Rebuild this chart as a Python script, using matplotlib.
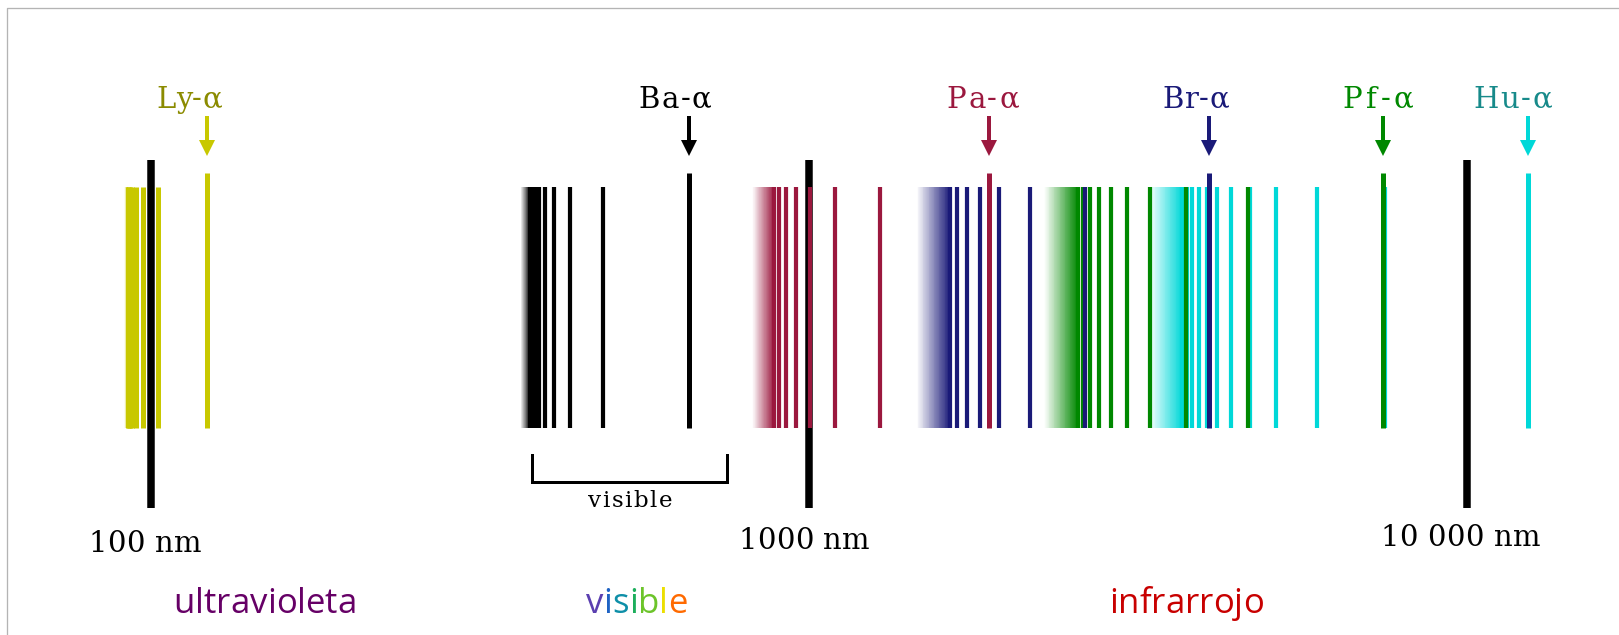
import matplotlib
matplotlib.use("Agg")
import matplotlib.pyplot as plt
import numpy as np
from matplotlib.colors import to_rgb
from matplotlib.transforms import IdentityTransform

W, H, DPI = 1619, 635, 100

# hydrogen lines in nm: alpha first, shortest drawn line last
LYMAN = [121.57, 102.57, 97.25, 94.97, 93.78, 93.07, 92.62, 92.31]
BALMER = [656.28, 486.13, 434.05, 410.17, 397.01, 388.91, 383.54, 379.79, 377.06]
PASCHEN = [1875.1, 1281.8, 1093.8, 1004.9, 954.6, 922.9, 901.5, 886.3]
BRACKETT = [4051.2, 2625.2, 2165.5, 1944.6, 1817.4, 1736.2, 1680.7, 1640.7]
PFUND = [7459.9, 4653.8, 3740.6, 3297.0, 3039.2, 2873.0, 2758.3, 2675.0, 2612.7, 2564.1]
HUMPHREYS = [12368, 7503, 5908, 5129, 4673, 4376, 4172, 4021, 3908, 3819, 3749, 3692]

# series limits (nm)
LIMITS = [91.18, 364.6, 820.4, 1458.2, 2279.0, 3282.0]
SERIES_LABELS = ["Ly-α", "Ba-α", "Pa-α", "Br-α", "Pf-α", "Hu-α"]

DECADES = [100, 1000, 10000]
DECADE_LABELS = ["100 nm", "1000 nm", "10 000 nm"]

VISIBLE_RANGE = [380, 752]

BAND_WORDS = ["ultravioleta", "visible", "infrarrojo"]

# styles
LINE_COLORS = ["#c8c800", "#000000", "#9b183e", "#1a1a78", "#008800", "#00d8d8"]
TEXT_COLORS = ["#8b8b00", "#000000", "#9b183e", "#1a1a78", "#008800", "#178a8a"]
LABEL_DX = [-17.5, -13.5, -6, -13, -6, -15]
LABEL_SPACING = [0.5, 1.5, 2.5, 0.5, 4, 1.5]
LINE_PX = [5.0, 4.2, 4.2, 4.2, 4.2, 4.2]
VISIBLE_COLORS = ["#5b3fb0", "#1f63c4", "#0e8fa8", "#1cae5c", "#6cc42a", "#ecdf00", "#ff6a00"]

PX_100 = 150.7          # pixel column of 100 nm
PX_DECADE = 658.2       # pixels per decade
PT = 72 / DPI           # points per pixel

TOP_ALPHA, TOP, BOTTOM = 173.3, 186.5, 427.5


def text_width(fig, s, **kw):
    if not s:
        return 0.0
    t = fig.text(0, 0, s, **kw)
    w = t.get_window_extent(fig.canvas.get_renderer()).width
    t.remove()
    return w


def draw_letters(fig, x, y, s, colors, spacing=0.0, **kw):
    """Draw text centred on pixel x, baseline pixel y (image coords), letter by letter."""
    total = text_width(fig, s, **kw) + spacing * (len(s) - 1)
    x0 = x - total / 2
    for i, (ch, c) in enumerate(zip(s, colors)):
        xi = x0 + text_width(fig, s[:i], **kw) + spacing * i
        fig.text(xi, H - y, ch, color=c, ha="left", va="baseline",
                 transform=IdentityTransform(), **kw)


def draw_gradient(ax, lo, hi, color, steps=40):
    edges = np.geomspace(lo, hi, steps + 1)
    rgb = np.array(to_rgb(color))
    for i in range(steps):
        a = (i + 0.5) / steps
        c = 1 - a * (1 - rgb)
        ax.fill_between([edges[i], edges[min(i + 2, steps)]], TOP, BOTTOM,
                        color=c, lw=0)


fig = plt.figure(figsize=(W / DPI, H / DPI), dpi=DPI)
ax = fig.add_axes([0, 0, 1, 1])
ax.set_xscale("log")
ax.set_xlim(10 ** (2 - PX_100 / PX_DECADE), 10 ** (2 + (W - PX_100) / PX_DECADE))
ax.set_ylim(H, 0)
ax.axis("off")

# frame
fx, fy = 7.3 / W, 1 - 8.3 / H
ax.plot([fx, fx, 1.01], [-0.01, fy, fy], transform=ax.transAxes,
        color="#b4b4b4", lw=1.3 * PT, clip_on=False)

# decade markers
ax.vlines(DECADES, 159.5, 508, color="black", lw=7.5 * PT)

series = [LYMAN, BALMER, PASCHEN, BRACKETT, PFUND, HUMPHREYS]
for k in [5, 4, 3, 2, 1, 0]:
    lines = series[k]
    color = LINE_COLORS[k]
    draw_gradient(ax, LIMITS[k], lines[-1], color)
    ax.vlines(lines[1:], TOP, BOTTOM, color=color, lw=LINE_PX[k] * PT)
    ax.vlines(lines[0], TOP_ALPHA, BOTTOM, color=color, lw=5.0 * PT)
    # arrow
    ax.plot([lines[0], lines[0]], [116, 146], color=color, lw=4 * PT,
            solid_capstyle="butt")
    ax.plot(lines[0], 148.3, marker="v", ms=11.2, mew=0, color=color)

# visible bracket
v0, v1 = VISIBLE_RANGE
ax.plot([v0, v0, v1, v1], [455, 481.7, 481.7, 455], color="black",
        lw=3 * PT, solid_joinstyle="miter")

fig.canvas.draw()
serif = dict(family="DejaVu Serif")

for k, label in enumerate(SERIES_LABELS):
    px = ax.transData.transform((series[k][0], 0))[0]
    draw_letters(fig, px + LABEL_DX[k], 107.5, label, [TEXT_COLORS[k]] * len(label),
                 spacing=LABEL_SPACING[k], fontsize=21, **serif)

decade_dx = [-6, -5, -7]
decade_y = [551.7, 549, 545.5]
for d, lab, dx, yb in zip(DECADES, DECADE_LABELS, decade_dx, decade_y):
    px = ax.transData.transform((d, 0))[0]
    draw_letters(fig, px + dx, yb, lab, ["black"] * len(lab), spacing=0.4,
                 fontsize=21, **serif)

vis_px = ax.transData.transform((np.sqrt(v0 * v1), 0))[0]
draw_letters(fig, vis_px, 507, "visible", ["black"] * 7, spacing=1.6,
             fontsize=16.5, **serif)

sans = dict(family="Open Sans", fontsize=25)
draw_letters(fig, 265, 612.7, BAND_WORDS[0], ["#660066"] * len(BAND_WORDS[0]), **sans)
draw_letters(fig, 636.7, 612.7, BAND_WORDS[1], VISIBLE_COLORS, **sans)
draw_letters(fig, 1186.5, 612.7, BAND_WORDS[2], ["#c80000"] * len(BAND_WORDS[2]), **sans)

fig.savefig("out.png", dpi=DPI)
